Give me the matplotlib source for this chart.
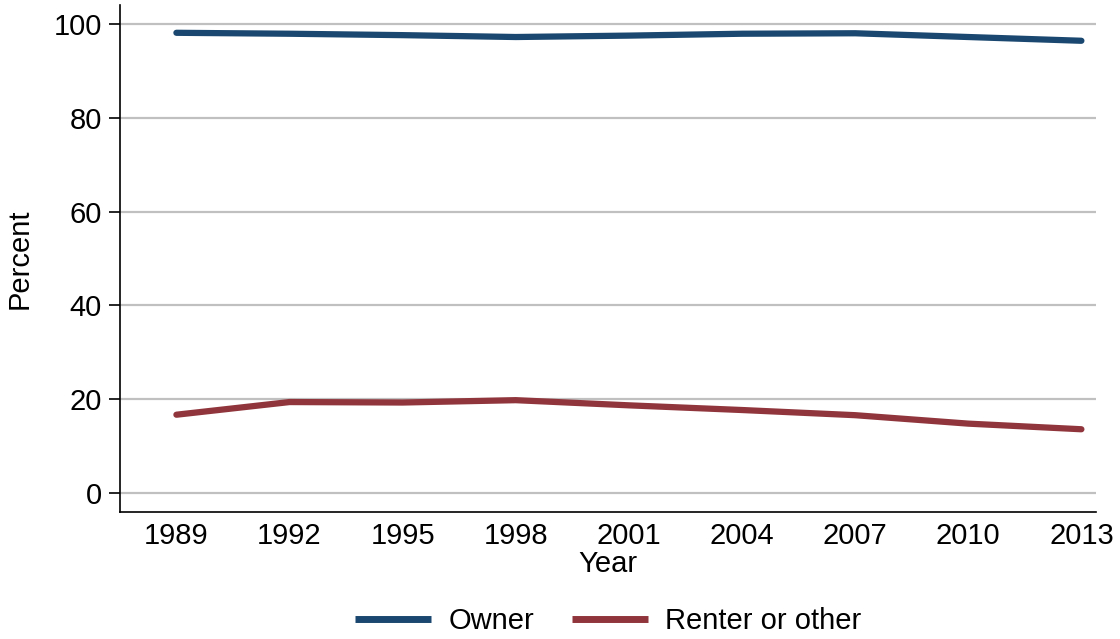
import matplotlib.pyplot as plt
from matplotlib.lines import Line2D

plt.rcParams['font.family'] = ['Liberation Sans', 'DejaVu Sans']

anos = [1989, 1992, 1995, 1998, 2001, 2004, 2007, 2010, 2013]
proprietario = [98.1, 97.9, 97.6, 97.2, 97.5, 97.9, 98.0, 97.2, 96.4]
inquilino = [16.7, 19.4, 19.3, 19.8, 18.7, 17.7, 16.6, 14.8, 13.6]
yticks = [0, 20, 40, 60, 80, 100]

cor_prop = '#1a476f'
cor_inq = '#90353b'

fig = plt.figure(figsize=(11.2, 6.39), dpi=100)
ax = fig.add_axes([0.107, 0.199, 0.872, 0.793])

ax.plot(anos, proprietario, color=cor_prop, lw=4.5, solid_capstyle='round', zorder=3)
ax.plot(anos, inquilino, color=cor_inq, lw=4.5, solid_capstyle='round', zorder=3)

ax.set_xlim(1987.5, 2013.4)
ax.set_ylim(-4, 104)
ax.set_xticks(anos)
ax.set_yticks(yticks)
ax.grid(axis='y', color='#c0c0c0', lw=1.6)
ax.set_axisbelow(True)
for s in ['top', 'right']:
  ax.spines[s].set_visible(False)
for s in ['left', 'bottom']:
  ax.spines[s].set_linewidth(1.2)
ax.tick_params(axis='y', labelsize=21, length=8, width=1.2, pad=5)
ax.tick_params(axis='x', labelsize=21, length=0, pad=7)

ax.set_xlabel('Year', fontsize=21, labelpad=0)
ax.set_ylabel('Percent', fontsize=21, labelpad=14)

# legenda com linhas de ponta reta
alcas = [Line2D([], [], color=cor_prop, lw=5, solid_capstyle='butt'),
         Line2D([], [], color=cor_inq, lw=5, solid_capstyle='butt')]
fig.legend(alcas, ['Owner', 'Renter or other'], loc='lower center',
           bbox_to_anchor=(0.543, -0.035), ncol=2, frameon=False,
           fontsize=21, handlelength=2.6, handletextpad=0.6, columnspacing=1.3)

fig.savefig('out.png', dpi=100)
